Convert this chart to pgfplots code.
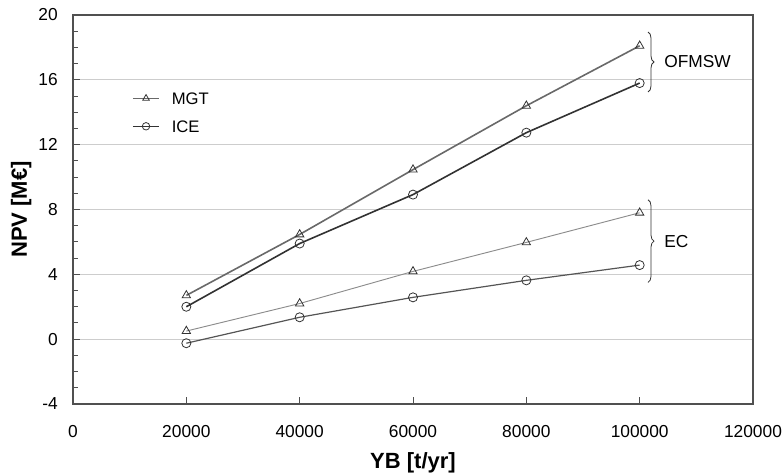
\documentclass[border=0pt]{standalone}
\usepackage{pgfplots}
\pgfplotsset{compat=1.18}
\usepackage{fontspec}
\setmainfont{Liberation Sans}
\usetikzlibrary{decorations.pathreplacing,calc}
\definecolor{axgray}{RGB}{80,80,80}
\definecolor{gridgray}{RGB}{205,205,205}
\definecolor{lmgt}{RGB}{105,105,105}
\definecolor{lice}{RGB}{50,50,50}
\definecolor{lmgtec}{RGB}{140,140,140}
\definecolor{liceec}{RGB}{85,85,85}

\begin{document}
\begin{tikzpicture}
\begin{axis}[
  scale only axis,
  width=510pt, height=291.75pt,
  xmin=0, xmax=120000, ymin=-4, ymax=20,
  xtick={0,20000,...,120000},
  ytick={-4,0,...,20},
  minor y tick num=3,
  scaled x ticks=false,
  /pgf/number format/assume math mode=true,
  xticklabel={\pgfmathprintnumber[fixed,1000 sep={}]{\tick}},
  tick label style={font=\fontsize{13}{15}\selectfont, inner sep=0pt},
  xticklabel style={anchor=base, yshift=-24.9pt},
  yticklabel style={anchor=east, xshift=-11.25pt},
  tick align=inside,
  xtick pos=bottom, ytick pos=left,
  major tick length=5pt, minor tick length=4pt,
  every tick/.style={axgray, line width=0.7pt},
  axis line style={axgray, line width=1pt},
  ymajorgrids, grid style={gridgray, line width=0.7pt},
  legend style={at={(rel axis cs:0.0868,0.802)}, anchor=north west, draw=none, fill=none,
    inner sep=0pt, font=\fontsize{12.5}{14}\selectfont, row sep=12pt, column sep=9pt,
    nodes={inner sep=0pt, text height=9pt, text depth=0pt}},
  legend image code/.code={\draw[mark repeat=2, mark phase=2, line width=0.7pt, mark size=2.8pt]
    plot coordinates {(0cm,0cm) (0.35cm,0cm) (0.7cm,0cm)};},
  legend cell align=left,
  clip=false,
]
\coordinate (SW) at (rel axis cs:0,0);
\coordinate (NE) at (rel axis cs:1,1);
\addplot[lmgt, line width=1.2pt, mark=triangle, mark size=3.6pt, mark options={fill=white, line width=0.6pt, draw=lice}] coordinates {
 (20000,2.7) (40000,6.46) (60000,10.46) (80000,14.4) (100000,18.1)
};
\addlegendentry{MGT}
\addplot[lice, line width=1.2pt, mark=o, mark size=3.4pt, mark options={fill=white, line width=0.6pt, draw=lice}] coordinates {
 (20000,2.0) (40000,5.9) (60000,8.92) (80000,12.74) (100000,15.8)
};
\addlegendentry{ICE}
\addplot[lmgtec, line width=0.7pt, mark=triangle, mark size=3.6pt, mark options={fill=white, line width=0.6pt, draw=lice}, forget plot] coordinates {
 (20000,0.5) (40000,2.2) (60000,4.18) (80000,5.97) (100000,7.8)
};
\addplot[liceec, line width=0.9pt, mark=o, mark size=3.4pt, mark options={fill=white, line width=0.6pt, draw=lice}, forget plot] coordinates {
 (20000,-0.25) (40000,1.35) (60000,2.58) (80000,3.63) (100000,4.57)
};
\draw[lice, line width=0.6pt, decorate, decoration={brace, amplitude=4.5pt}]
  (axis cs:101470,18.95) -- (axis cs:101470,15.25);
\node[anchor=west, inner sep=0pt, font=\fontsize{13}{15}\selectfont] at (axis cs:104300,17.1) {OFMSW};
\draw[lice, line width=0.6pt, decorate, decoration={brace, amplitude=4.5pt}]
  (axis cs:101470,8.6) -- (axis cs:101470,3.5);
\node[anchor=west, inner sep=0pt, font=\fontsize{13}{15}\selectfont] at (axis cs:104300,6.05) {EC};
\end{axis}
\node[anchor=base, inner sep=0pt, font=\fontsize{16.5}{18}\bfseries]
  at ($(SW)!0.5!(SW-|NE)+(0,-48.3pt)$) {YB [t/yr]};
\node[anchor=base, rotate=90, inner sep=0pt, font=\fontsize{16.5}{18}\bfseries]
  at ($(SW)!0.5!(SW|-NE)+(-34.5pt,0)$) {NPV [M€]};
\pgfresetboundingbox
\path ($(SW)+(-54.75pt,-53.25pt)$) rectangle ($(NE)+(21.75pt,11.25pt)$);
\end{tikzpicture}
\end{document}
